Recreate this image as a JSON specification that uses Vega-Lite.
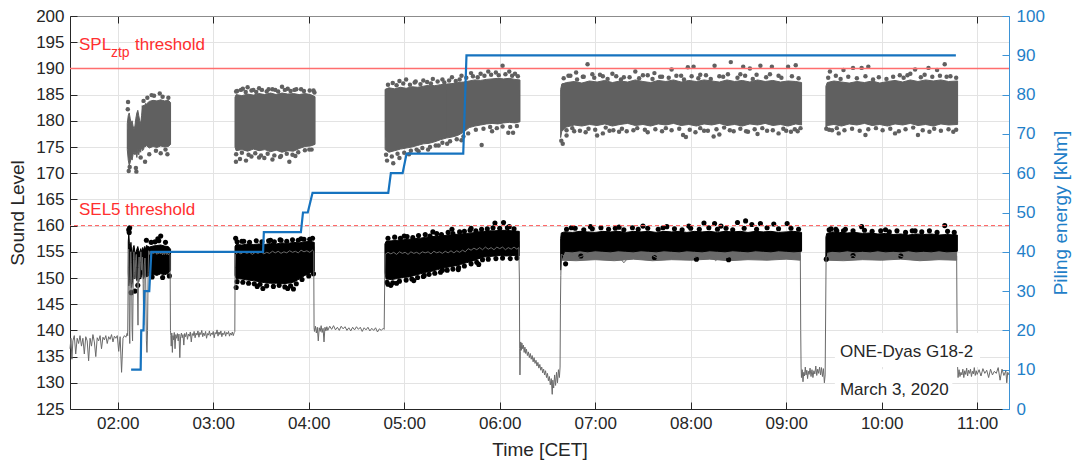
{
"$schema": "https://vega.github.io/schema/vega-lite/v6.json",
"width": 939, "height": 393,
"autosize": {"type": "none"},
"padding": {"left": 70, "top": 16, "right": 67, "bottom": 55},
"background": "white",
"config": {"view": {"stroke": null}, "font": "Liberation Sans",
  "axis": {"labelFont": "Liberation Sans", "titleFont": "Liberation Sans", "labelFontSize": 17, "titleFontSize": 19, "titleFontWeight": "normal", "labelColor": "#262626", "titleColor": "#262626"}},
"datasets": {
"gl": [
{"h":1.5,"v":136.5},{"h":1.51,"v":138.5},{"h":1.52,"v":134.5},{"h":1.53,"v":138.0},{"h":1.545,"v":139.0},{"h":1.56,"v":135.5},{"h":1.575,"v":138.5},{"h":1.59,"v":137.5},{"h":1.605,"v":139.0},{"h":1.62,"v":137.0},{"h":1.635,"v":138.5},{"h":1.65,"v":135.5},{"h":1.665,"v":138.8},{"h":1.68,"v":138.0},{"h":1.695,"v":134.2},{"h":1.71,"v":138.5},{"h":1.725,"v":137.0},{"h":1.74,"v":139.2},{"h":1.755,"v":137.8},{"h":1.77,"v":135.0},{"h":1.785,"v":138.6},{"h":1.8,"v":138.0},{"h":1.815,"v":139.0},{"h":1.83,"v":136.5},{"h":1.845,"v":138.7},{"h":1.86,"v":138.2},{"h":1.875,"v":139.0},{"h":1.89,"v":137.5},{"h":1.905,"v":138.8},{"h":1.92,"v":138.3},{"h":1.935,"v":139.2},{"h":1.95,"v":137.8},{"h":1.965,"v":138.9},{"h":1.98,"v":138.5},{"h":1.995,"v":139.0},{"h":2.01,"v":136.0},{"h":2.025,"v":138.8},{"h":2.04,"v":132.0},{"h":2.055,"v":138.5},{"h":2.07,"v":139.0},{"h":2.085,"v":138.7},{"h":2.1,"v":139.5},
{"h":2.104,"v":139.0},{"h":2.11,"v":152.0},{"h":2.114,"v":155.5},{"h":2.118,"v":150.0},{"h":2.122,"v":140.0},{"h":2.126,"v":137.5},{"h":2.131,"v":148.0},{"h":2.136,"v":155.0},{"h":2.141,"v":153.0},{"h":2.146,"v":149.0},{"h":2.15,"v":140.5},{"h":2.155,"v":138.0},{"h":2.16,"v":146.0},{"h":2.165,"v":153.5},{"h":2.17,"v":155.0},{"h":2.176,"v":151.0},{"h":2.182,"v":150.0},{"h":2.188,"v":153.5},{"h":2.194,"v":154.5},{"h":2.2,"v":152.0},{"h":2.206,"v":148.0},{"h":2.212,"v":141.0},{"h":2.218,"v":152.0},{"h":2.224,"v":154.0},{"h":2.23,"v":150.0},{"h":2.236,"v":153.0},{"h":2.242,"v":155.0},{"h":2.25,"v":151.5},{"h":2.258,"v":154.0},{"h":2.266,"v":149.0},{"h":2.272,"v":141.0},{"h":2.278,"v":152.5},{"h":2.285,"v":153.8},{"h":2.292,"v":150.5},{"h":2.3,"v":138.0},{"h":2.306,"v":135.8},{"h":2.312,"v":140.0},{"h":2.318,"v":151.0},{"h":2.324,"v":155.2},{"h":2.332,"v":154.5},{"h":2.34,"v":155.1},{"h":2.35,"v":154.7},
{"h":2.36,"v":155.0},{"h":2.37,"v":154.6},{"h":2.38,"v":155.1},{"h":2.39,"v":154.7},{"h":2.4,"v":155.0},{"h":2.41,"v":154.5},{"h":2.42,"v":155.0},{"h":2.43,"v":154.6},{"h":2.44,"v":155.1},{"h":2.45,"v":154.6},{"h":2.46,"v":154.9},{"h":2.47,"v":154.4},{"h":2.48,"v":154.9},{"h":2.49,"v":154.5},{"h":2.5,"v":155.0},{"h":2.51,"v":154.5},{"h":2.52,"v":154.8},{"h":2.53,"v":154.4},{"h":2.54,"v":154.7},{"h":2.548,"v":154.5},{"h":2.552,"v":140.0},{"h":2.556,"v":139.0},
{"h":2.56,"v":137.0},{"h":2.566,"v":139.5},{"h":2.572,"v":135.8},{"h":2.578,"v":139.0},{"h":2.585,"v":138.2},{"h":2.592,"v":139.6},{"h":2.6,"v":136.5},{"h":2.608,"v":139.2},{"h":2.616,"v":138.5},{"h":2.625,"v":139.4},{"h":2.633,"v":138.0},{"h":2.641,"v":139.3},{"h":2.65,"v":134.8},{"h":2.658,"v":138.8},{"h":2.667,"v":139.5},{"h":2.675,"v":138.6},{"h":2.683,"v":139.2},{"h":2.692,"v":137.2},{"h":2.7,"v":139.4},{"h":2.71,"v":138.8},{"h":2.72,"v":139.6},{"h":2.73,"v":138.3},{"h":2.74,"v":139.3},{"h":2.75,"v":138.9},{"h":2.76,"v":139.7},{"h":2.77,"v":137.8},{"h":2.78,"v":139.4},{"h":2.79,"v":139.0},{"h":2.8,"v":139.8},{"h":2.81,"v":138.6},{"h":2.82,"v":139.5},{"h":2.83,"v":139.1},{"h":2.84,"v":139.9},{"h":2.85,"v":138.7},{"h":2.86,"v":139.6},{"h":2.87,"v":139.2},{"h":2.88,"v":140.0},{"h":2.89,"v":138.8},{"h":2.9,"v":139.5},{"h":2.91,"v":139.0},{"h":2.92,"v":139.8},{"h":2.93,"v":138.5},{"h":2.94,"v":139.4},{"h":2.95,"v":139.1},{"h":2.96,"v":139.9},{"h":2.97,"v":138.9},{"h":2.98,"v":139.5},{"h":2.99,"v":139.2},{"h":3.0,"v":139.8},{"h":3.01,"v":138.6},{"h":3.02,"v":139.6},{"h":3.03,"v":139.3},{"h":3.04,"v":140.1},{"h":3.05,"v":138.9},{"h":3.06,"v":139.7},{"h":3.07,"v":139.2},{"h":3.08,"v":139.9},{"h":3.09,"v":138.8},{"h":3.1,"v":139.5},{"h":3.11,"v":139.2},{"h":3.12,"v":139.8},{"h":3.13,"v":138.9},{"h":3.14,"v":139.6},{"h":3.15,"v":139.3},{"h":3.16,"v":139.8},{"h":3.17,"v":138.9},{"h":3.18,"v":139.5},{"h":3.19,"v":139.1},{"h":3.2,"v":139.7},{"h":3.21,"v":139.0},{"h":3.22,"v":139.6},{"h":3.226,"v":139.8},{"h":3.229,"v":152.0},
{"h":3.232,"v":154.5},{"h":3.26,"v":154.9},{"h":3.29,"v":154.6},{"h":3.32,"v":155.0},{"h":3.35,"v":154.7},{"h":3.38,"v":154.9},{"h":3.41,"v":154.5},{"h":3.44,"v":154.9},{"h":3.47,"v":154.7},{"h":3.5,"v":155.0},{"h":3.53,"v":154.6},{"h":3.56,"v":154.9},{"h":3.59,"v":154.7},{"h":3.62,"v":155.1},{"h":3.65,"v":154.8},{"h":3.68,"v":155.1},{"h":3.71,"v":154.7},{"h":3.74,"v":155.0},{"h":3.77,"v":154.8},{"h":3.8,"v":155.2},{"h":3.83,"v":154.9},{"h":3.86,"v":155.1},{"h":3.89,"v":154.8},{"h":3.92,"v":155.3},{"h":3.95,"v":155.0},{"h":3.98,"v":155.2},{"h":4.01,"v":154.9},{"h":4.04,"v":155.3},{"h":4.052,"v":155.1},{"h":4.056,"v":140.5},{"h":4.06,"v":139.8},
{"h":4.07,"v":140.8},{"h":4.08,"v":139.5},{"h":4.09,"v":140.6},{"h":4.1,"v":138.0},{"h":4.11,"v":140.5},{"h":4.12,"v":139.8},{"h":4.13,"v":140.9},{"h":4.14,"v":139.6},{"h":4.15,"v":140.4},{"h":4.16,"v":137.8},{"h":4.17,"v":140.6},{"h":4.18,"v":139.9},{"h":4.19,"v":140.7},{"h":4.2,"v":140.0},{"h":4.22,"v":140.8},{"h":4.24,"v":140.2},{"h":4.26,"v":140.9},{"h":4.28,"v":140.1},{"h":4.3,"v":140.6},{"h":4.32,"v":140.0},{"h":4.34,"v":140.8},{"h":4.36,"v":140.3},{"h":4.38,"v":140.7},{"h":4.4,"v":140.0},{"h":4.42,"v":140.5},{"h":4.44,"v":139.9},{"h":4.46,"v":140.6},{"h":4.48,"v":140.1},{"h":4.5,"v":140.7},{"h":4.52,"v":140.2},{"h":4.54,"v":140.6},{"h":4.56,"v":139.8},{"h":4.58,"v":140.5},{"h":4.6,"v":140.1},{"h":4.62,"v":140.6},{"h":4.64,"v":139.9},{"h":4.66,"v":140.4},{"h":4.68,"v":140.0},{"h":4.7,"v":140.5},{"h":4.72,"v":139.7},{"h":4.74,"v":140.3},{"h":4.76,"v":140.0},{"h":4.78,"v":140.4},{"h":4.79,"v":140.2},{"h":4.796,"v":150.0},
{"h":4.8,"v":154.5},{"h":4.83,"v":154.9},{"h":4.86,"v":154.6},{"h":4.89,"v":154.9},{"h":4.92,"v":154.5},{"h":4.95,"v":155.0},{"h":4.98,"v":154.7},{"h":5.01,"v":154.9},{"h":5.04,"v":154.5},{"h":5.07,"v":155.0},{"h":5.1,"v":154.7},{"h":5.13,"v":154.9},{"h":5.16,"v":154.6},{"h":5.19,"v":155.0},{"h":5.22,"v":154.8},{"h":5.25,"v":155.0},{"h":5.28,"v":154.6},{"h":5.31,"v":155.1},{"h":5.34,"v":154.8},{"h":5.37,"v":155.0},{"h":5.4,"v":154.7},{"h":5.43,"v":155.1},{"h":5.46,"v":154.8},{"h":5.49,"v":155.2},{"h":5.52,"v":154.8},{"h":5.55,"v":155.2},{"h":5.58,"v":154.9},{"h":5.61,"v":155.3},{"h":5.64,"v":155.0},{"h":5.67,"v":155.6},{"h":5.7,"v":155.3},{"h":5.73,"v":155.7},{"h":5.76,"v":155.4},{"h":5.79,"v":155.8},{"h":5.82,"v":155.4},{"h":5.85,"v":155.9},{"h":5.88,"v":155.5},{"h":5.91,"v":155.8},{"h":5.94,"v":155.4},{"h":5.97,"v":155.9},{"h":6.0,"v":155.6},{"h":6.03,"v":155.9},{"h":6.06,"v":155.4},{"h":6.09,"v":155.8},{"h":6.12,"v":155.5},{"h":6.15,"v":155.9},{"h":6.18,"v":155.5},{"h":6.2,"v":155.8},{"h":6.206,"v":150.0},{"h":6.209,"v":136.5},
{"h":6.212,"v":131.5},{"h":6.216,"v":136.0},{"h":6.22,"v":137.8},{"h":6.226,"v":136.2},{"h":6.232,"v":137.6},{"h":6.24,"v":136.5},{"h":6.248,"v":137.2},{"h":6.256,"v":135.8},{"h":6.264,"v":136.8},{"h":6.272,"v":135.6},{"h":6.28,"v":136.4},{"h":6.29,"v":135.2},{"h":6.3,"v":135.9},{"h":6.31,"v":134.8},{"h":6.32,"v":135.6},{"h":6.33,"v":134.5},{"h":6.34,"v":135.2},{"h":6.35,"v":134.0},{"h":6.36,"v":134.8},{"h":6.37,"v":133.7},{"h":6.38,"v":134.3},{"h":6.39,"v":133.2},{"h":6.4,"v":133.9},{"h":6.41,"v":132.8},{"h":6.42,"v":133.5},{"h":6.43,"v":132.4},{"h":6.44,"v":133.0},{"h":6.45,"v":131.9},{"h":6.46,"v":132.6},{"h":6.47,"v":131.5},{"h":6.48,"v":132.3},{"h":6.49,"v":131.0},{"h":6.5,"v":131.8},{"h":6.51,"v":130.4},{"h":6.52,"v":131.2},{"h":6.53,"v":129.6},{"h":6.54,"v":130.8},{"h":6.55,"v":127.8},{"h":6.556,"v":130.5},{"h":6.565,"v":129.0},{"h":6.575,"v":131.5},{"h":6.585,"v":129.5},{"h":6.595,"v":132.0},{"h":6.605,"v":130.0},{"h":6.615,"v":132.5},{"h":6.625,"v":131.0},{"h":6.632,"v":133.0},{"h":6.636,"v":145.0},{"h":6.64,"v":150.5},
{"h":6.645,"v":154.5},{"h":6.7,"v":154.0},{"h":6.76,"v":154.4},{"h":6.82,"v":153.9},{"h":6.88,"v":154.3},{"h":6.94,"v":153.6},{"h":7.0,"v":154.2},{"h":7.06,"v":154.0},{"h":7.12,"v":154.4},{"h":7.18,"v":153.8},{"h":7.24,"v":154.3},{"h":7.3,"v":152.9},{"h":7.36,"v":154.2},{"h":7.42,"v":153.9},{"h":7.48,"v":154.4},{"h":7.54,"v":154.0},{"h":7.6,"v":154.3},{"h":7.66,"v":153.7},{"h":7.72,"v":154.2},{"h":7.78,"v":153.9},{"h":7.84,"v":154.4},{"h":7.9,"v":154.0},{"h":7.96,"v":154.3},{"h":8.02,"v":153.8},{"h":8.08,"v":154.2},{"h":8.14,"v":153.9},{"h":8.2,"v":154.4},{"h":8.26,"v":153.3},{"h":8.32,"v":154.2},{"h":8.38,"v":153.9},{"h":8.44,"v":154.3},{"h":8.5,"v":154.0},{"h":8.56,"v":154.4},{"h":8.62,"v":153.8},{"h":8.68,"v":154.2},{"h":8.74,"v":153.9},{"h":8.8,"v":154.3},{"h":8.86,"v":154.0},{"h":8.92,"v":154.4},{"h":8.98,"v":153.7},{"h":9.04,"v":154.2},{"h":9.1,"v":153.9},{"h":9.148,"v":154.3},{"h":9.152,"v":140.0},{"h":9.156,"v":133.0},
{"h":9.16,"v":131.0},{"h":9.168,"v":132.5},{"h":9.176,"v":130.2},{"h":9.184,"v":132.0},{"h":9.192,"v":131.3},{"h":9.2,"v":133.0},{"h":9.208,"v":131.5},{"h":9.216,"v":132.4},{"h":9.224,"v":130.8},{"h":9.232,"v":132.2},{"h":9.24,"v":131.6},{"h":9.25,"v":132.8},{"h":9.26,"v":131.2},{"h":9.27,"v":132.5},{"h":9.28,"v":131.0},{"h":9.29,"v":132.3},{"h":9.3,"v":131.7},{"h":9.31,"v":133.2},{"h":9.32,"v":131.4},{"h":9.33,"v":132.6},{"h":9.34,"v":131.8},{"h":9.35,"v":133.0},{"h":9.36,"v":131.5},{"h":9.37,"v":132.9},{"h":9.38,"v":131.2},{"h":9.39,"v":132.7},{"h":9.4,"v":130.0},{"h":9.408,"v":131.5},{"h":9.414,"v":145.0},
{"h":9.418,"v":154.0},{"h":9.46,"v":154.3},{"h":9.52,"v":153.8},{"h":9.58,"v":154.2},{"h":9.64,"v":153.9},{"h":9.7,"v":154.3},{"h":9.76,"v":153.6},{"h":9.82,"v":154.2},{"h":9.88,"v":153.9},{"h":9.94,"v":154.3},{"h":10.0,"v":154.0},{"h":10.06,"v":154.2},{"h":10.12,"v":153.7},{"h":10.18,"v":154.3},{"h":10.24,"v":153.9},{"h":10.3,"v":154.2},{"h":10.36,"v":153.8},{"h":10.42,"v":154.3},{"h":10.48,"v":154.0},{"h":10.54,"v":154.2},{"h":10.6,"v":153.6},{"h":10.66,"v":154.3},{"h":10.72,"v":153.9},{"h":10.785,"v":154.2},{"h":10.79,"v":139.0},{"h":10.795,"v":133.0},
{"h":10.8,"v":131.0},{"h":10.81,"v":132.5},{"h":10.82,"v":131.2},{"h":10.83,"v":132.0},{"h":10.84,"v":131.5},{"h":10.85,"v":132.6},{"h":10.86,"v":131.0},{"h":10.87,"v":132.3},{"h":10.88,"v":131.6},{"h":10.89,"v":132.8},{"h":10.9,"v":131.3},{"h":10.91,"v":132.4},{"h":10.92,"v":131.8},{"h":10.93,"v":132.6},{"h":10.94,"v":131.2},{"h":10.95,"v":132.2},{"h":10.96,"v":131.7},{"h":10.97,"v":132.9},{"h":10.98,"v":131.4},{"h":10.99,"v":132.3},{"h":11.0,"v":131.6},{"h":11.02,"v":132.5},{"h":11.04,"v":131.3},{"h":11.06,"v":132.7},{"h":11.08,"v":131.8},{"h":11.1,"v":132.4},{"h":11.12,"v":131.0},{"h":11.14,"v":132.6},{"h":11.16,"v":131.5},{"h":11.18,"v":132.2},{"h":11.2,"v":131.8},{"h":11.22,"v":132.9},{"h":11.24,"v":130.5},{"h":11.26,"v":132.6},{"h":11.28,"v":131.4},{"h":11.3,"v":132.3},{"h":11.31,"v":130.0},{"h":11.32,"v":132.0},{"h":11.333,"v":131.5}
],
"gb": [
{"c":"D","h":6.645,"lo":153.4,"hi":155.3},{"c":"D","h":6.8,"lo":153.3,"hi":155.3},{"c":"D","h":7.0,"lo":153.5,"hi":155.3},{"c":"D","h":7.2,"lo":153.3,"hi":155.3},{"c":"D","h":7.4,"lo":153.6,"hi":155.3},{"c":"D","h":7.6,"lo":153.3,"hi":155.3},{"c":"D","h":7.8,"lo":153.5,"hi":155.3},{"c":"D","h":8.0,"lo":153.4,"hi":155.3},{"c":"D","h":8.2,"lo":153.6,"hi":155.3},{"c":"D","h":8.4,"lo":153.3,"hi":155.3},{"c":"D","h":8.6,"lo":153.5,"hi":155.3},{"c":"D","h":8.8,"lo":153.4,"hi":155.3},{"c":"D","h":9.0,"lo":153.6,"hi":155.3},{"c":"D","h":9.148,"lo":153.4,"hi":155.3},
{"c":"E","h":9.42,"lo":153.4,"hi":155.3},{"c":"E","h":9.6,"lo":153.3,"hi":155.3},{"c":"E","h":9.8,"lo":153.5,"hi":155.3},{"c":"E","h":10.0,"lo":153.4,"hi":155.3},{"c":"E","h":10.2,"lo":153.6,"hi":155.3},{"c":"E","h":10.4,"lo":153.3,"hi":155.3},{"c":"E","h":10.6,"lo":153.5,"hi":155.3},{"c":"E","h":10.785,"lo":153.4,"hi":155.3}
],
"sb": [
{"c":"A","h":2.1,"lo":174.5,"hi":179.5},{"c":"A","h":2.11,"lo":172.5,"hi":181.0},{"c":"A","h":2.12,"lo":171.5,"hi":181.5},{"c":"A","h":2.13,"lo":172.0,"hi":180.5},{"c":"A","h":2.14,"lo":173.0,"hi":179.5},{"c":"A","h":2.15,"lo":172.5,"hi":180.0},{"c":"A","h":2.16,"lo":173.5,"hi":179.0},{"c":"A","h":2.17,"lo":174.0,"hi":178.5},{"c":"A","h":2.18,"lo":173.5,"hi":179.0},{"c":"A","h":2.19,"lo":174.0,"hi":180.5},{"c":"A","h":2.2,"lo":173.0,"hi":181.5},{"c":"A","h":2.21,"lo":174.5,"hi":182.0},{"c":"A","h":2.22,"lo":173.5,"hi":181.0},{"c":"A","h":2.23,"lo":174.5,"hi":180.0},{"c":"A","h":2.24,"lo":174.0,"hi":179.5},{"c":"A","h":2.25,"lo":175.0,"hi":181.0},{"c":"A","h":2.26,"lo":174.3,"hi":182.5},{"c":"A","h":2.27,"lo":174.5,"hi":183.0},{"c":"A","h":2.28,"lo":175.2,"hi":182.8},{"c":"A","h":2.29,"lo":175.0,"hi":183.3},{"c":"A","h":2.3,"lo":175.3,"hi":183.2},{"c":"A","h":2.33,"lo":174.8,"hi":183.7},{"c":"A","h":2.37,"lo":175.1,"hi":183.9},{"c":"A","h":2.41,"lo":174.9,"hi":183.8},{"c":"A","h":2.45,"lo":175.2,"hi":184.0},{"c":"A","h":2.49,"lo":175.0,"hi":183.8},{"c":"A","h":2.53,"lo":175.1,"hi":183.9},{"c":"A","h":2.553,"lo":175.5,"hi":183.5},
{"c":"B","h":3.228,"lo":175.0,"hi":184.5},{"c":"B","h":3.24,"lo":174.3,"hi":185.0},{"c":"B","h":3.3,"lo":174.5,"hi":184.8},{"c":"B","h":3.36,"lo":174.2,"hi":185.1},{"c":"B","h":3.42,"lo":174.6,"hi":184.9},{"c":"B","h":3.48,"lo":174.3,"hi":185.2},{"c":"B","h":3.54,"lo":174.5,"hi":185.0},{"c":"B","h":3.6,"lo":174.1,"hi":185.3},{"c":"B","h":3.66,"lo":174.4,"hi":185.0},{"c":"B","h":3.72,"lo":174.0,"hi":185.3},{"c":"B","h":3.78,"lo":174.3,"hi":185.1},{"c":"B","h":3.84,"lo":174.2,"hi":185.2},{"c":"B","h":3.9,"lo":174.7,"hi":185.0},{"c":"B","h":3.96,"lo":175.1,"hi":185.2},{"c":"B","h":4.02,"lo":175.2,"hi":185.0},{"c":"B","h":4.066,"lo":175.5,"hi":184.6},
{"c":"C","h":4.8,"lo":174.5,"hi":186.0},{"c":"C","h":4.84,"lo":174.0,"hi":186.3},{"c":"C","h":4.9,"lo":174.3,"hi":186.1},{"c":"C","h":4.96,"lo":174.6,"hi":186.4},{"c":"C","h":5.02,"lo":174.8,"hi":186.2},{"c":"C","h":5.08,"lo":175.0,"hi":186.5},{"c":"C","h":5.14,"lo":175.3,"hi":186.4},{"c":"C","h":5.2,"lo":175.6,"hi":186.6},{"c":"C","h":5.26,"lo":175.7,"hi":186.8},{"c":"C","h":5.32,"lo":176.0,"hi":186.7},{"c":"C","h":5.38,"lo":176.4,"hi":186.9},{"c":"C","h":5.44,"lo":176.7,"hi":187.0},{"c":"C","h":5.5,"lo":176.9,"hi":187.1},{"c":"C","h":5.56,"lo":177.2,"hi":187.3},{"c":"C","h":5.62,"lo":177.8,"hi":187.4},{"c":"C","h":5.68,"lo":178.7,"hi":187.6},{"c":"C","h":5.74,"lo":179.0,"hi":187.8},{"c":"C","h":5.8,"lo":179.2,"hi":187.7},{"c":"C","h":5.86,"lo":179.4,"hi":187.9},{"c":"C","h":5.92,"lo":179.5,"hi":188.0},{"c":"C","h":5.98,"lo":179.4,"hi":188.1},{"c":"C","h":6.04,"lo":179.6,"hi":188.0},{"c":"C","h":6.1,"lo":179.7,"hi":188.1},{"c":"C","h":6.16,"lo":179.6,"hi":187.9},{"c":"C","h":6.212,"lo":179.8,"hi":187.8},
{"c":"D","h":6.638,"lo":176.8,"hi":186.0},{"c":"D","h":6.65,"lo":178.0,"hi":187.0},{"c":"D","h":6.7,"lo":178.8,"hi":187.3},{"c":"D","h":6.78,"lo":179.2,"hi":187.5},{"c":"D","h":6.86,"lo":179.0,"hi":187.2},{"c":"D","h":6.94,"lo":179.3,"hi":187.6},{"c":"D","h":7.02,"lo":179.1,"hi":187.4},{"c":"D","h":7.1,"lo":179.4,"hi":187.7},{"c":"D","h":7.18,"lo":179.0,"hi":187.3},{"c":"D","h":7.26,"lo":179.3,"hi":187.6},{"c":"D","h":7.34,"lo":179.5,"hi":187.4},{"c":"D","h":7.42,"lo":179.1,"hi":187.8},{"c":"D","h":7.5,"lo":179.3,"hi":187.5},{"c":"D","h":7.58,"lo":179.0,"hi":187.3},{"c":"D","h":7.66,"lo":179.4,"hi":187.7},{"c":"D","h":7.74,"lo":179.2,"hi":187.5},{"c":"D","h":7.82,"lo":179.5,"hi":187.8},{"c":"D","h":7.9,"lo":179.1,"hi":187.4},{"c":"D","h":7.98,"lo":179.3,"hi":187.7},{"c":"D","h":8.06,"lo":179.0,"hi":187.5},{"c":"D","h":8.14,"lo":179.4,"hi":187.8},{"c":"D","h":8.22,"lo":179.2,"hi":187.6},{"c":"D","h":8.3,"lo":179.5,"hi":187.4},{"c":"D","h":8.38,"lo":179.1,"hi":187.8},{"c":"D","h":8.46,"lo":179.3,"hi":187.5},{"c":"D","h":8.54,"lo":179.0,"hi":187.7},{"c":"D","h":8.62,"lo":179.4,"hi":187.4},{"c":"D","h":8.7,"lo":179.2,"hi":187.8},{"c":"D","h":8.78,"lo":179.5,"hi":187.5},{"c":"D","h":8.86,"lo":179.1,"hi":187.7},{"c":"D","h":8.94,"lo":179.3,"hi":187.4},{"c":"D","h":9.02,"lo":179.0,"hi":187.6},{"c":"D","h":9.1,"lo":179.4,"hi":187.5},{"c":"D","h":9.161,"lo":179.2,"hi":187.3},
{"c":"E","h":9.416,"lo":178.5,"hi":186.6},{"c":"E","h":9.43,"lo":179.1,"hi":187.3},{"c":"E","h":9.5,"lo":179.3,"hi":187.6},{"c":"E","h":9.58,"lo":179.0,"hi":187.4},{"c":"E","h":9.66,"lo":179.4,"hi":187.2},{"c":"E","h":9.74,"lo":179.2,"hi":187.5},{"c":"E","h":9.82,"lo":179.5,"hi":187.3},{"c":"E","h":9.9,"lo":179.1,"hi":187.6},{"c":"E","h":9.98,"lo":179.3,"hi":187.2},{"c":"E","h":10.06,"lo":179.0,"hi":187.5},{"c":"E","h":10.14,"lo":179.4,"hi":187.7},{"c":"E","h":10.22,"lo":179.2,"hi":187.4},{"c":"E","h":10.3,"lo":179.5,"hi":187.8},{"c":"E","h":10.38,"lo":179.1,"hi":187.5},{"c":"E","h":10.46,"lo":179.3,"hi":187.8},{"c":"E","h":10.54,"lo":179.0,"hi":187.6},{"c":"E","h":10.62,"lo":179.4,"hi":187.8},{"c":"E","h":10.7,"lo":179.2,"hi":187.5},{"c":"E","h":10.795,"lo":179.3,"hi":187.6}
],
"score": [
{"x1":2.1,"x2":2.25,"y1":174.6,"y2":178.4},{"x1":2.25,"x2":2.553,"y1":175.5,"y2":182.9},
{"x1":3.228,"x2":4.066,"y1":175.6,"y2":184.5},
{"x1":4.8,"x2":6.212,"y1":180.0,"y2":185.9},{"x1":4.8,"x2":5.44,"y1":176.8,"y2":185.9},
{"x1":6.65,"x2":9.161,"y1":179.6,"y2":187.1},
{"x1":9.43,"x2":10.795,"y1":179.6,"y2":187.1}
],
"ecore": [
{"x1":3.228,"x2":4.058,"y1":151.5,"y2":156.0},
{"x1":4.81,"x2":6.205,"y1":154.4,"y2":157.0},{"x1":4.81,"x2":5.35,"y1":151.7,"y2":157.0},
{"x1":6.68,"x2":9.161,"y1":155.3,"y2":158.6},
{"x1":9.425,"x2":10.792,"y1":155.3,"y2":158.1}
],
"sp": [
{"h":2.108,"v":183.6},{"h":2.115,"v":170.4},{"h":2.125,"v":171.2},{"h":2.19,"v":171.0},{"h":2.195,"v":170.3},{"h":2.27,"v":183.8},{"h":2.286,"v":172.2},{"h":2.355,"v":184.9},{"h":2.44,"v":185.2},{"h":2.33,"v":173.6},{"h":2.45,"v":173.8},{"h":2.52,"v":173.6},{"h":2.38,"v":184.8},{"h":2.31,"v":184.4},{"h":2.47,"v":184.6},{"h":2.53,"v":184.4},{"h":2.4,"v":174.3},{"h":2.5,"v":174.5},{"h":2.24,"v":173.0},{"h":2.105,"v":182.2},
{"h":3.25,"v":185.7},{"h":3.31,"v":186.1},{"h":3.36,"v":186.4},{"h":3.42,"v":185.9},{"h":3.58,"v":186.0},{"h":3.65,"v":185.9},{"h":3.72,"v":186.5},{"h":3.78,"v":186.1},{"h":3.92,"v":186.0},{"h":4.05,"v":185.8},{"h":3.48,"v":186.2},{"h":3.85,"v":185.9},{"h":3.238,"v":172.2},{"h":3.28,"v":172.7},{"h":3.343,"v":172.4},{"h":3.4,"v":173.2},{"h":3.48,"v":173.0},{"h":3.535,"v":172.9},{"h":3.62,"v":172.6},{"h":3.7,"v":173.1},{"h":3.797,"v":172.2},{"h":3.86,"v":173.3},{"h":4.006,"v":174.5},
{"h":3.24,"v":185.6},{"h":3.29,"v":185.9},{"h":3.34,"v":185.5},{"h":3.4,"v":185.8},{"h":3.45,"v":185.5},{"h":3.51,"v":185.9},{"h":3.56,"v":185.6},{"h":3.62,"v":186.0},{"h":3.68,"v":185.6},{"h":3.75,"v":185.9},{"h":3.81,"v":185.7},{"h":3.87,"v":186.0},{"h":3.95,"v":185.7},{"h":4.01,"v":185.8},{"h":4.06,"v":185.4},{"h":3.24,"v":173.6},{"h":3.3,"v":173.9},{"h":3.37,"v":173.5},{"h":3.44,"v":173.8},{"h":3.5,"v":173.4},{"h":3.57,"v":173.7},{"h":3.64,"v":173.4},{"h":3.71,"v":173.3},{"h":3.77,"v":173.7},{"h":3.83,"v":173.5},{"h":3.89,"v":174.0},{"h":3.96,"v":174.4},{"h":4.03,"v":174.5},
{"h":4.95,"v":187.6},{"h":5.02,"v":187.9},{"h":5.12,"v":187.5},{"h":5.2,"v":187.7},{"h":5.3,"v":188.0},{"h":5.4,"v":187.9},{"h":5.5,"v":188.3},{"h":5.6,"v":188.6},{"h":5.7,"v":189.1},{"h":5.8,"v":189.0},{"h":5.88,"v":189.4},{"h":5.96,"v":189.2},{"h":6.03,"v":190.5},{"h":6.1,"v":189.4},{"h":6.16,"v":189.0},{"h":4.82,"v":172.4},{"h":4.885,"v":171.9},{"h":4.95,"v":172.9},{"h":5.05,"v":173.6},{"h":5.15,"v":174.2},{"h":5.25,"v":174.5},{"h":5.36,"v":175.3},{"h":5.45,"v":175.6},{"h":5.6,"v":176.3},{"h":5.811,"v":175.4},{"h":5.92,"v":178.0},{"h":6.09,"v":177.7},{"h":6.14,"v":177.7},
{"h":4.83,"v":186.9},{"h":4.88,"v":187.2},{"h":4.92,"v":186.8},{"h":4.99,"v":187.1},{"h":5.06,"v":186.9},{"h":5.11,"v":187.3},{"h":5.17,"v":187.0},{"h":5.24,"v":187.4},{"h":5.28,"v":187.1},{"h":5.35,"v":187.5},{"h":5.42,"v":187.3},{"h":5.47,"v":187.7},{"h":5.54,"v":187.6},{"h":5.58,"v":187.9},{"h":5.65,"v":188.2},{"h":5.72,"v":188.5},{"h":5.77,"v":188.3},{"h":5.84,"v":188.6},{"h":5.91,"v":188.8},{"h":5.99,"v":188.7},{"h":6.06,"v":188.9},{"h":6.13,"v":188.6},{"h":6.19,"v":188.5},
{"h":4.81,"v":173.5},{"h":4.87,"v":173.2},{"h":4.93,"v":173.7},{"h":5.0,"v":173.9},{"h":5.07,"v":174.3},{"h":5.13,"v":174.5},{"h":5.19,"v":174.8},{"h":5.27,"v":175.0},{"h":5.33,"v":175.3},{"h":5.4,"v":175.8},{"h":5.48,"v":176.1},{"h":5.55,"v":176.5},{"h":5.62,"v":177.0},{"h":5.67,"v":177.6},{"h":5.75,"v":178.3},{"h":5.83,"v":178.5},{"h":5.9,"v":178.8},{"h":5.97,"v":178.6},{"h":6.03,"v":178.9},{"h":6.11,"v":178.8},{"h":6.18,"v":179.0},
{"h":6.72,"v":188.6},{"h":6.8,"v":189.2},{"h":6.87,"v":188.4},{"h":6.92,"v":190.8},{"h":6.97,"v":188.9},{"h":7.08,"v":188.5},{"h":7.18,"v":189.0},{"h":7.3,"v":188.3},{"h":7.42,"v":189.4},{"h":7.5,"v":188.7},{"h":7.62,"v":189.1},{"h":7.7,"v":188.4},{"h":7.8,"v":189.8},{"h":7.9,"v":188.6},{"h":7.97,"v":190.2},{"h":8.03,"v":190.3},{"h":8.1,"v":188.8},{"h":8.25,"v":190.5},{"h":8.3,"v":188.5},{"h":8.42,"v":191.2},{"h":8.52,"v":188.9},{"h":8.55,"v":190.3},{"h":8.62,"v":190.0},{"h":8.73,"v":190.5},{"h":8.85,"v":190.3},{"h":8.92,"v":188.6},{"h":9.02,"v":190.3},{"h":9.1,"v":190.6},
{"h":6.67,"v":188.1},{"h":6.74,"v":188.6},{"h":6.81,"v":187.9},{"h":6.88,"v":188.4},{"h":6.99,"v":188.2},{"h":7.05,"v":188.8},{"h":7.13,"v":188.0},{"h":7.22,"v":188.5},{"h":7.27,"v":187.9},{"h":7.36,"v":188.3},{"h":7.46,"v":188.1},{"h":7.55,"v":188.7},{"h":7.6,"v":188.0},{"h":7.68,"v":188.4},{"h":7.77,"v":188.2},{"h":7.85,"v":188.6},{"h":7.93,"v":187.9},{"h":8.01,"v":188.5},{"h":8.08,"v":188.1},{"h":8.16,"v":188.7},{"h":8.21,"v":188.0},{"h":8.34,"v":188.4},{"h":8.39,"v":188.9},{"h":8.49,"v":188.2},{"h":8.57,"v":188.6},{"h":8.65,"v":188.0},{"h":8.69,"v":188.8},{"h":8.79,"v":188.3},{"h":8.83,"v":188.9},{"h":8.95,"v":188.2},{"h":9.06,"v":188.5},{"h":9.13,"v":188.1},
{"h":6.645,"v":176.2},{"h":6.66,"v":175.6},{"h":6.7,"v":177.2},{"h":6.78,"v":178.0},{"h":6.9,"v":177.8},{"h":7.02,"v":177.2},{"h":7.08,"v":177.6},{"h":7.15,"v":178.1},{"h":7.25,"v":177.9},{"h":7.4,"v":178.2},{"h":7.55,"v":177.8},{"h":7.7,"v":178.0},{"h":7.92,"v":177.3},{"h":7.95,"v":176.9},{"h":8.05,"v":177.8},{"h":8.18,"v":178.1},{"h":8.24,"v":177.0},{"h":8.3,"v":177.4},{"h":8.45,"v":178.0},{"h":8.6,"v":177.9},{"h":8.7,"v":177.5},{"h":8.8,"v":178.1},{"h":8.92,"v":177.6},{"h":9.05,"v":177.9},{"h":9.12,"v":178.0},
{"h":6.7,"v":178.2},{"h":6.76,"v":178.6},{"h":6.84,"v":178.1},{"h":6.93,"v":178.5},{"h":7.0,"v":178.3},{"h":7.11,"v":178.7},{"h":7.19,"v":178.2},{"h":7.28,"v":178.5},{"h":7.33,"v":178.0},{"h":7.44,"v":178.6},{"h":7.52,"v":178.3},{"h":7.63,"v":178.4},{"h":7.74,"v":178.6},{"h":7.8,"v":178.2},{"h":7.88,"v":178.5},{"h":7.99,"v":178.3},{"h":8.1,"v":178.6},{"h":8.14,"v":178.1},{"h":8.27,"v":178.4},{"h":8.35,"v":178.7},{"h":8.41,"v":178.2},{"h":8.52,"v":178.5},{"h":8.58,"v":178.0},{"h":8.67,"v":178.4},{"h":8.75,"v":178.6},{"h":8.86,"v":178.2},{"h":8.97,"v":178.5},{"h":9.0,"v":178.1},{"h":9.09,"v":178.4},{"h":9.15,"v":178.6},
{"h":9.458,"v":189.4},{"h":9.6,"v":189.7},{"h":9.7,"v":190.1},{"h":9.79,"v":190.1},{"h":9.86,"v":190.3},{"h":10.19,"v":188.7},{"h":10.3,"v":189.0},{"h":10.35,"v":189.8},{"h":10.49,"v":190.1},{"h":10.58,"v":189.7},{"h":10.66,"v":190.8},{"h":10.68,"v":188.4},{"h":9.48,"v":178.2},{"h":9.55,"v":177.6},{"h":9.83,"v":177.3},{"h":10.14,"v":177.6},{"h":10.38,"v":177.3},{"h":10.5,"v":177.9},{"h":10.75,"v":177.9},{"h":9.42,"v":178.5},
{"h":9.44,"v":188.2},{"h":9.52,"v":188.6},{"h":9.57,"v":188.0},{"h":9.65,"v":188.4},{"h":9.74,"v":188.1},{"h":9.83,"v":188.5},{"h":9.91,"v":187.9},{"h":9.97,"v":188.3},{"h":10.05,"v":188.0},{"h":10.12,"v":188.4},{"h":10.23,"v":188.2},{"h":10.27,"v":188.7},{"h":10.41,"v":188.3},{"h":10.45,"v":188.8},{"h":10.53,"v":188.4},{"h":10.61,"v":188.6},{"h":10.72,"v":188.5},{"h":10.78,"v":188.2},
{"h":9.45,"v":178.3},{"h":9.53,"v":178.6},{"h":9.61,"v":178.2},{"h":9.69,"v":178.5},{"h":9.77,"v":178.1},{"h":9.86,"v":178.4},{"h":9.94,"v":178.6},{"h":10.01,"v":178.2},{"h":10.09,"v":178.5},{"h":10.18,"v":178.0},{"h":10.25,"v":178.4},{"h":10.33,"v":178.7},{"h":10.43,"v":178.2},{"h":10.55,"v":178.5},{"h":10.62,"v":178.1},{"h":10.7,"v":178.4},{"h":10.78,"v":178.3}
],
"eb": [
{"c":"A","h":2.11,"lo":151.0,"hi":157.0},{"c":"A","h":2.116,"lo":148.5,"hi":158.5},{"c":"A","h":2.122,"lo":149.5,"hi":156.5},{"c":"A","h":2.13,"lo":150.5,"hi":155.5},{"c":"A","h":2.138,"lo":149.0,"hi":156.8},{"c":"A","h":2.146,"lo":148.2,"hi":155.0},{"c":"A","h":2.154,"lo":149.5,"hi":154.5},{"c":"A","h":2.162,"lo":150.5,"hi":155.8},{"c":"A","h":2.17,"lo":149.8,"hi":156.2},{"c":"A","h":2.18,"lo":150.8,"hi":155.0},{"c":"A","h":2.19,"lo":150.0,"hi":154.8},{"c":"A","h":2.2,"lo":149.5,"hi":155.5},{"c":"A","h":2.21,"lo":150.2,"hi":156.0},{"c":"A","h":2.22,"lo":149.3,"hi":155.2},{"c":"A","h":2.23,"lo":150.5,"hi":154.8},{"c":"A","h":2.24,"lo":149.8,"hi":155.6},{"c":"A","h":2.25,"lo":150.5,"hi":155.0},{"c":"A","h":2.26,"lo":151.0,"hi":155.8},{"c":"A","h":2.27,"lo":149.8,"hi":155.3},{"c":"A","h":2.28,"lo":150.4,"hi":156.0},{"c":"A","h":2.29,"lo":150.8,"hi":155.5},{"c":"A","h":2.3,"lo":150.2,"hi":156.2},{"c":"A","h":2.33,"lo":150.5,"hi":155.9},{"c":"A","h":2.37,"lo":150.7,"hi":156.1},{"c":"A","h":2.41,"lo":150.5,"hi":156.2},{"c":"A","h":2.45,"lo":150.8,"hi":156.3},{"c":"A","h":2.49,"lo":150.6,"hi":156.1},{"c":"A","h":2.53,"lo":150.9,"hi":156.0},{"c":"A","h":2.553,"lo":151.5,"hi":155.5},
{"c":"B","h":3.228,"lo":150.5,"hi":156.0},{"c":"B","h":3.24,"lo":149.9,"hi":156.4},{"c":"B","h":3.3,"lo":149.8,"hi":156.3},{"c":"B","h":3.36,"lo":149.6,"hi":156.5},{"c":"B","h":3.42,"lo":149.5,"hi":156.4},{"c":"B","h":3.48,"lo":149.3,"hi":156.5},{"c":"B","h":3.54,"lo":149.1,"hi":156.4},{"c":"B","h":3.6,"lo":149.0,"hi":156.6},{"c":"B","h":3.66,"lo":149.0,"hi":156.5},{"c":"B","h":3.72,"lo":148.9,"hi":156.7},{"c":"B","h":3.78,"lo":149.0,"hi":156.6},{"c":"B","h":3.84,"lo":149.2,"hi":156.8},{"c":"B","h":3.9,"lo":149.8,"hi":156.7},{"c":"B","h":3.96,"lo":150.5,"hi":156.9},{"c":"B","h":4.02,"lo":151.0,"hi":157.0},{"c":"B","h":4.058,"lo":151.3,"hi":156.8},
{"c":"C","h":4.798,"lo":151.0,"hi":156.5},{"c":"C","h":4.81,"lo":149.8,"hi":157.0},{"c":"C","h":4.87,"lo":149.7,"hi":157.1},{"c":"C","h":4.93,"lo":149.9,"hi":157.2},{"c":"C","h":4.99,"lo":150.1,"hi":157.3},{"c":"C","h":5.05,"lo":150.2,"hi":157.4},{"c":"C","h":5.11,"lo":150.5,"hi":157.5},{"c":"C","h":5.17,"lo":150.8,"hi":157.6},{"c":"C","h":5.23,"lo":151.1,"hi":157.8},{"c":"C","h":5.29,"lo":151.3,"hi":157.9},{"c":"C","h":5.35,"lo":151.6,"hi":158.0},{"c":"C","h":5.41,"lo":151.9,"hi":158.1},{"c":"C","h":5.47,"lo":152.1,"hi":158.2},{"c":"C","h":5.53,"lo":152.3,"hi":158.3},{"c":"C","h":5.59,"lo":152.6,"hi":158.4},{"c":"C","h":5.65,"lo":152.9,"hi":158.5},{"c":"C","h":5.71,"lo":153.2,"hi":158.6},{"c":"C","h":5.77,"lo":153.6,"hi":158.8},{"c":"C","h":5.83,"lo":154.0,"hi":158.9},{"c":"C","h":5.89,"lo":154.1,"hi":159.0},{"c":"C","h":5.95,"lo":154.2,"hi":159.0},{"c":"C","h":6.01,"lo":154.3,"hi":159.1},{"c":"C","h":6.07,"lo":154.2,"hi":159.1},{"c":"C","h":6.13,"lo":154.3,"hi":159.0},{"c":"C","h":6.205,"lo":154.2,"hi":158.9},
{"c":"D","h":6.638,"lo":151.5,"hi":157.5},{"c":"D","h":6.645,"lo":153.5,"hi":158.6},{"c":"D","h":6.68,"lo":155.1,"hi":158.8},{"c":"D","h":6.76,"lo":155.0,"hi":158.7},{"c":"D","h":6.84,"lo":155.2,"hi":158.9},{"c":"D","h":6.92,"lo":155.0,"hi":158.8},{"c":"D","h":7.0,"lo":155.2,"hi":158.7},{"c":"D","h":7.08,"lo":155.1,"hi":158.9},{"c":"D","h":7.16,"lo":155.0,"hi":158.8},{"c":"D","h":7.24,"lo":155.2,"hi":158.9},{"c":"D","h":7.32,"lo":155.1,"hi":158.7},{"c":"D","h":7.4,"lo":155.0,"hi":158.9},{"c":"D","h":7.48,"lo":155.2,"hi":158.8},{"c":"D","h":7.56,"lo":155.1,"hi":158.9},{"c":"D","h":7.64,"lo":155.0,"hi":158.7},{"c":"D","h":7.72,"lo":155.2,"hi":158.9},{"c":"D","h":7.8,"lo":155.1,"hi":158.8},{"c":"D","h":7.88,"lo":155.0,"hi":158.9},{"c":"D","h":7.96,"lo":155.2,"hi":158.7},{"c":"D","h":8.04,"lo":155.1,"hi":158.9},{"c":"D","h":8.12,"lo":155.0,"hi":158.8},{"c":"D","h":8.2,"lo":155.2,"hi":158.9},{"c":"D","h":8.28,"lo":155.1,"hi":158.7},{"c":"D","h":8.36,"lo":155.0,"hi":158.9},{"c":"D","h":8.44,"lo":155.2,"hi":158.8},{"c":"D","h":8.52,"lo":155.1,"hi":158.9},{"c":"D","h":8.6,"lo":155.0,"hi":158.7},{"c":"D","h":8.68,"lo":155.2,"hi":158.9},{"c":"D","h":8.76,"lo":155.1,"hi":158.8},{"c":"D","h":8.84,"lo":155.0,"hi":158.9},{"c":"D","h":8.92,"lo":155.2,"hi":158.7},{"c":"D","h":9.0,"lo":155.1,"hi":158.8},{"c":"D","h":9.08,"lo":155.0,"hi":158.9},{"c":"D","h":9.161,"lo":155.1,"hi":158.7},
{"c":"E","h":9.416,"lo":153.5,"hi":157.8},{"c":"E","h":9.425,"lo":154.9,"hi":158.5},{"c":"E","h":9.48,"lo":155.1,"hi":158.8},{"c":"E","h":9.56,"lo":155.0,"hi":158.7},{"c":"E","h":9.64,"lo":155.2,"hi":158.6},{"c":"E","h":9.72,"lo":155.0,"hi":158.7},{"c":"E","h":9.8,"lo":155.1,"hi":158.5},{"c":"E","h":9.88,"lo":155.0,"hi":158.6},{"c":"E","h":9.96,"lo":155.2,"hi":158.4},{"c":"E","h":10.04,"lo":155.0,"hi":158.5},{"c":"E","h":10.12,"lo":155.1,"hi":158.3},{"c":"E","h":10.2,"lo":155.0,"hi":158.4},{"c":"E","h":10.28,"lo":155.2,"hi":158.2},{"c":"E","h":10.36,"lo":155.0,"hi":158.4},{"c":"E","h":10.44,"lo":155.1,"hi":158.3},{"c":"E","h":10.52,"lo":155.0,"hi":158.4},{"c":"E","h":10.6,"lo":155.2,"hi":158.2},{"c":"E","h":10.68,"lo":155.0,"hi":158.3},{"c":"E","h":10.792,"lo":155.1,"hi":158.2}
],
"ep": [
{"h":2.115,"v":159.2},{"h":2.12,"v":158.7},{"h":2.125,"v":159.6},{"h":2.14,"v":147.2},{"h":2.18,"v":147.5},{"h":2.3,"v":157.2},{"h":2.42,"v":157.5},{"h":2.43,"v":157.1},{"h":2.45,"v":158.0},{"h":2.21,"v":148.6},{"h":2.35,"v":156.8},{"h":2.39,"v":156.9},{"h":2.5,"v":156.8},{"h":2.36,"v":150.2},{"h":2.47,"v":150.1},{"h":2.54,"v":150.4},
{"h":3.235,"v":157.6},{"h":3.24,"v":148.2},{"h":3.3,"v":157.0},{"h":3.46,"v":148.4},{"h":3.52,"v":148.0},{"h":3.6,"v":157.2},{"h":3.7,"v":157.3},{"h":3.78,"v":148.0},{"h":3.84,"v":147.9},{"h":3.92,"v":157.5},{"h":4.04,"v":157.6},
{"h":3.25,"v":156.9},{"h":3.32,"v":157.0},{"h":3.38,"v":156.8},{"h":3.45,"v":157.1},{"h":3.51,"v":156.9},{"h":3.58,"v":157.1},{"h":3.64,"v":156.9},{"h":3.71,"v":157.2},{"h":3.77,"v":157.0},{"h":3.83,"v":157.3},{"h":3.89,"v":157.2},{"h":3.95,"v":157.4},{"h":4.01,"v":157.4},{"h":3.25,"v":149.3},{"h":3.31,"v":149.2},{"h":3.37,"v":149.0},{"h":3.43,"v":148.9},{"h":3.49,"v":148.8},{"h":3.56,"v":148.5},{"h":3.63,"v":148.4},{"h":3.69,"v":148.6},{"h":3.75,"v":148.3},{"h":3.81,"v":148.5},{"h":3.87,"v":148.9},{"h":3.93,"v":149.7},{"h":4.0,"v":150.4},{"h":4.05,"v":150.8},
{"h":4.83,"v":148.8},{"h":4.86,"v":148.6},{"h":4.92,"v":149.0},{"h":5.1,"v":149.5},{"h":5.2,"v":150.3},{"h":5.4,"v":151.5},{"h":5.566,"v":151.6},{"h":5.78,"v":152.6},{"h":5.0,"v":158.0},{"h":5.3,"v":158.8},{"h":5.5,"v":159.3},{"h":5.7,"v":159.5},{"h":5.95,"v":160.5},{"h":6.04,"v":160.6},{"h":6.1,"v":159.8},
{"h":4.83,"v":157.6},{"h":4.9,"v":157.8},{"h":4.96,"v":157.6},{"h":5.03,"v":157.9},{"h":5.09,"v":157.7},{"h":5.15,"v":158.1},{"h":5.22,"v":158.3},{"h":5.27,"v":158.0},{"h":5.34,"v":158.5},{"h":5.39,"v":158.3},{"h":5.46,"v":158.7},{"h":5.51,"v":158.5},{"h":5.58,"v":158.8},{"h":5.63,"v":158.9},{"h":5.69,"v":159.1},{"h":5.75,"v":159.0},{"h":5.81,"v":159.3},{"h":5.87,"v":159.4},{"h":5.93,"v":159.6},{"h":6.0,"v":159.5},{"h":6.08,"v":159.6},{"h":6.15,"v":159.4},
{"h":4.82,"v":149.2},{"h":4.88,"v":149.1},{"h":4.95,"v":149.4},{"h":5.02,"v":149.6},{"h":5.08,"v":149.8},{"h":5.14,"v":150.1},{"h":5.21,"v":150.5},{"h":5.26,"v":150.7},{"h":5.32,"v":150.9},{"h":5.38,"v":151.1},{"h":5.45,"v":151.5},{"h":5.51,"v":151.7},{"h":5.57,"v":152.0},{"h":5.63,"v":152.3},{"h":5.7,"v":152.7},{"h":5.76,"v":153.0},{"h":5.82,"v":153.5},{"h":5.88,"v":153.6},{"h":5.96,"v":153.7},{"h":6.03,"v":153.8},{"h":6.11,"v":153.7},{"h":6.18,"v":153.8},
{"h":6.69,"v":152.7},{"h":6.75,"v":159.6},{"h":6.85,"v":154.2},{"h":6.95,"v":159.8},{"h":7.25,"v":159.7},{"h":7.5,"v":159.9},{"h":7.62,"v":153.9},{"h":7.75,"v":159.8},{"h":7.98,"v":159.9},{"h":8.06,"v":153.6},{"h":8.139,"v":160.5},{"h":8.25,"v":160.4},{"h":8.317,"v":159.9},{"h":8.397,"v":153.5},{"h":8.49,"v":160.6},{"h":8.575,"v":160.9},{"h":8.64,"v":160.2},{"h":8.73,"v":160.4},{"h":8.87,"v":160.3},{"h":9.01,"v":160.4},
{"h":6.7,"v":159.3},{"h":6.79,"v":159.5},{"h":6.88,"v":159.2},{"h":6.97,"v":159.4},{"h":7.06,"v":159.6},{"h":7.14,"v":159.3},{"h":7.21,"v":159.5},{"h":7.3,"v":159.2},{"h":7.39,"v":159.6},{"h":7.45,"v":159.3},{"h":7.55,"v":159.5},{"h":7.66,"v":159.3},{"h":7.71,"v":159.6},{"h":7.83,"v":159.4},{"h":7.91,"v":159.2},{"h":8.0,"v":159.5},{"h":8.09,"v":159.3},{"h":8.19,"v":159.6},{"h":8.28,"v":159.3},{"h":8.37,"v":159.5},{"h":8.44,"v":159.2},{"h":8.56,"v":159.5},{"h":8.69,"v":159.3},{"h":8.8,"v":159.6},{"h":8.92,"v":159.4},{"h":9.05,"v":159.5},{"h":9.13,"v":159.3},
{"h":9.42,"v":153.6},{"h":9.47,"v":159.4},{"h":9.52,"v":159.3},{"h":9.6,"v":159.0},{"h":9.7,"v":154.3},{"h":9.79,"v":159.8},{"h":10.04,"v":159.2},{"h":10.2,"v":154.2},{"h":10.35,"v":159.0},{"h":10.66,"v":160.0},
{"h":9.45,"v":159.2},{"h":9.53,"v":159.0},{"h":9.62,"v":159.3},{"h":9.7,"v":159.0},{"h":9.82,"v":159.1},{"h":9.9,"v":158.9},{"h":9.99,"v":159.0},{"h":10.08,"v":158.8},{"h":10.16,"v":159.0},{"h":10.25,"v":158.7},{"h":10.32,"v":159.0},{"h":10.42,"v":158.8},{"h":10.5,"v":159.0},{"h":10.58,"v":158.7},{"h":10.69,"v":158.9},{"h":10.76,"v":158.7}
],
"en": [
{"h":2.14,"e":10},{"h":2.24,"e":10},{"h":2.246,"e":20},{"h":2.27,"e":20},{"h":2.279,"e":30},{"h":2.33,"e":30},{"h":2.352,"e":40},{"h":3.522,"e":40},{"h":3.53,"e":45},{"h":3.918,"e":45},{"h":3.94,"e":50},{"h":3.99,"e":50},{"h":4.04,"e":55},{"h":4.833,"e":55},{"h":4.86,"e":60},{"h":4.983,"e":60},{"h":5.025,"e":65},{"h":5.618,"e":65},{"h":5.652,"e":90},{"h":10.777,"e":90}
]
},
"resolve": {"scale": {"y": "independent"}, "axis": {"x": "independent"}},
"layer": [
{"data": {"name": "sb"}, "mark": {"type": "area", "orient": "vertical", "fill": "#606060", "stroke": "#606060", "strokeWidth": 1, "opacity": 1, "fillOpacity": 1},
 "encoding": {
  "x": {"field": "h", "type": "quantitative", "scale": {"domain": [1.5, 11.3333], "nice": false, "zero": false},
    "axis": {"title": "Time [CET]", "values": [2,3,4,5,6,7,8,9,10,11], "labelExpr": "(datum.value < 10 ? '0' : '') + datum.value + ':00'", "grid": true, "gridColor": "#e3e3e3", "domainColor": "#262626", "tickColor": "#262626", "tickSize": -7, "labelPadding": 13, "titlePadding": 9}},
  "y": {"field": "lo", "type": "quantitative", "scale": {"domain": [125, 200], "nice": false, "zero": false},
    "axis": {"title": "Sound Level", "values": [125,130,135,140,145,150,155,160,165,170,175,180,185,190,195,200], "grid": true, "gridColor": "#e3e3e3", "domainColor": "#262626", "tickColor": "#262626", "tickSize": -7, "labelPadding": 13, "titlePadding": 8}},
  "y2": {"field": "hi"},
  "detail": {"field": "c"}}},
{"data": {"name": "score"}, "mark": {"type": "rect", "fill": "#606060", "stroke": null, "opacity": 1},
 "encoding": {
  "x": {"field": "x1", "type": "quantitative", "scale": {"domain": [1.5, 11.3333], "nice": false, "zero": false}, "axis": null},
  "x2": {"field": "x2"},
  "y": {"field": "y1", "type": "quantitative", "scale": {"domain": [125, 200], "nice": false, "zero": false}, "axis": null},
  "y2": {"field": "y2"}}},
{"data": {"name": "sp"}, "mark": {"type": "circle", "color": "#606060", "opacity": 1, "size": 20},
 "encoding": {
  "x": {"field": "h", "type": "quantitative", "scale": {"domain": [1.5, 11.3333], "nice": false, "zero": false}, "axis": null},
  "y": {"field": "v", "type": "quantitative", "scale": {"domain": [125, 200], "nice": false, "zero": false}, "axis": null}}},
{"data": {"name": "gb"}, "mark": {"type": "area", "orient": "vertical", "fill": "#6a6a6a", "stroke": "#6a6a6a", "strokeWidth": 1, "opacity": 1},
 "encoding": {
  "x": {"field": "h", "type": "quantitative", "scale": {"domain": [1.5, 11.3333], "nice": false, "zero": false}, "axis": null},
  "y": {"field": "lo", "type": "quantitative", "scale": {"domain": [125, 200], "nice": false, "zero": false}, "axis": null},
  "y2": {"field": "hi"},
  "detail": {"field": "c"}}},
{"data": {"name": "eb"}, "mark": {"type": "area", "orient": "vertical", "fill": "#000000", "stroke": "#000000", "strokeWidth": 1, "opacity": 1},
 "encoding": {
  "x": {"field": "h", "type": "quantitative", "scale": {"domain": [1.5, 11.3333], "nice": false, "zero": false}, "axis": null},
  "y": {"field": "lo", "type": "quantitative", "scale": {"domain": [125, 200], "nice": false, "zero": false}, "axis": null},
  "y2": {"field": "hi"},
  "detail": {"field": "c"}}},
{"data": {"name": "ecore"}, "mark": {"type": "rect", "fill": "#000000", "stroke": null, "opacity": 1},
 "encoding": {
  "x": {"field": "x1", "type": "quantitative", "scale": {"domain": [1.5, 11.3333], "nice": false, "zero": false}, "axis": null},
  "x2": {"field": "x2"},
  "y": {"field": "y1", "type": "quantitative", "scale": {"domain": [125, 200], "nice": false, "zero": false}, "axis": null},
  "y2": {"field": "y2"}}},
{"data": {"name": "ep"}, "mark": {"type": "circle", "color": "#000000", "opacity": 1, "size": 26},
 "encoding": {
  "x": {"field": "h", "type": "quantitative", "scale": {"domain": [1.5, 11.3333], "nice": false, "zero": false}, "axis": null},
  "y": {"field": "v", "type": "quantitative", "scale": {"domain": [125, 200], "nice": false, "zero": false}, "axis": null}}},
{"data": {"name": "gl"}, "mark": {"type": "line", "color": "#6a6a6a", "strokeWidth": 1},
 "encoding": {
  "x": {"field": "h", "type": "quantitative", "scale": {"domain": [1.5, 11.3333], "nice": false, "zero": false}, "axis": null},
  "y": {"field": "v", "type": "quantitative", "scale": {"domain": [125, 200], "nice": false, "zero": false}, "axis": null}}},
{"data": {"values": [{"v": 190}]}, "mark": {"type": "rule", "color": "#ff6e6e", "strokeWidth": 1.5},
 "encoding": {"y": {"field": "v", "type": "quantitative", "scale": {"domain": [125, 200], "nice": false, "zero": false}, "axis": null}}},
{"data": {"values": [{"v": 160}]}, "mark": {"type": "rule", "color": "#ff5a5a", "strokeWidth": 1, "strokeDash": [4, 3]},
 "encoding": {"y": {"field": "v", "type": "quantitative", "scale": {"domain": [125, 200], "nice": false, "zero": false}, "axis": null}}},
{"data": {"values": [{"h1": 9.51, "h2": 11.03, "v1": 133.0, "v2": 139.5}, {"h1": 9.51, "h2": 10.74, "v1": 126.3, "v2": 132.6}]}, "mark": {"type": "rect", "color": "white"},
 "encoding": {
  "x": {"field": "h1", "type": "quantitative", "scale": {"domain": [1.5, 11.3333], "nice": false, "zero": false}, "axis": null},
  "x2": {"field": "h2"},
  "y": {"field": "v1", "type": "quantitative", "scale": {"domain": [125, 200], "nice": false, "zero": false}, "axis": null},
  "y2": {"field": "v2"}}},
{"data": {"values": [{"h": 1.594, "v": 193.5, "label": "SPL"}, {"h": 2.181, "v": 193.5, "label": "threshold"}, {"h": 1.594, "v": 162.1, "label": "SEL5 threshold"}]},
 "mark": {"type": "text", "align": "left", "baseline": "alphabetic", "fontSize": 17, "color": "#ff2f2f", "font": "Liberation Sans"},
 "encoding": {
  "x": {"field": "h", "type": "quantitative", "scale": {"domain": [1.5, 11.3333], "nice": false, "zero": false}, "axis": null},
  "y": {"field": "v", "type": "quantitative", "scale": {"domain": [125, 200], "nice": false, "zero": false}, "axis": null},
  "text": {"field": "label"}}},
{"data": {"values": [{"h": 1.929, "v": 192.2, "label": "ztp"}]},
 "mark": {"type": "text", "align": "left", "baseline": "alphabetic", "fontSize": 14, "color": "#ff2f2f", "font": "Liberation Sans"},
 "encoding": {
  "x": {"field": "h", "type": "quantitative", "scale": {"domain": [1.5, 11.3333], "nice": false, "zero": false}, "axis": null},
  "y": {"field": "v", "type": "quantitative", "scale": {"domain": [125, 200], "nice": false, "zero": false}, "axis": null},
  "text": {"field": "label"}}},
{"data": {"values": [{"h": 9.563, "v": 134.9, "label": "ONE-Dyas G18-2"}, {"h": 9.563, "v": 127.6, "label": "March 3, 2020"}]},
 "mark": {"type": "text", "align": "left", "baseline": "alphabetic", "fontSize": 17, "color": "#262626", "font": "Liberation Sans"},
 "encoding": {
  "x": {"field": "h", "type": "quantitative", "scale": {"domain": [1.5, 11.3333], "nice": false, "zero": false}, "axis": null},
  "y": {"field": "v", "type": "quantitative", "scale": {"domain": [125, 200], "nice": false, "zero": false}, "axis": null},
  "text": {"field": "label"}}},
{"data": {"name": "en"}, "mark": {"type": "line", "color": "#1673bf", "strokeWidth": 2.2},
 "encoding": {
  "x": {"field": "h", "type": "quantitative", "scale": {"domain": [1.5, 11.3333], "nice": false, "zero": false},
    "axis": {"orient": "top", "title": null, "labels": false, "values": [2,3,4,5,6,7,8,9,10,11], "grid": false, "domainColor": "#8c8c8c", "tickColor": "#262626", "tickSize": -7}},
  "y": {"field": "e", "type": "quantitative", "scale": {"domain": [0, 100], "nice": false, "zero": false},
    "axis": {"orient": "right", "title": "Piling energy [kNm]", "titleAngle": -90, "values": [0,10,20,30,40,50,60,70,80,90,100], "grid": false, "domainColor": "#3d93d6", "tickColor": "#3d93d6", "labelColor": "#1f80c8", "titleColor": "#1f80c8", "tickSize": -7, "labelPadding": 14, "titlePadding": 26}}}}
]
}
